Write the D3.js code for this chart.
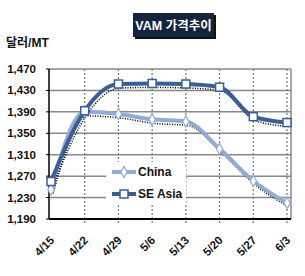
<!DOCTYPE html>
<html>
<head>
<meta charset="utf-8">
<script src="https://cdn.jsdelivr.net/npm/d3@7"></script>
<style>
  body { margin: 0; background: #fff; }
  text { font-family: Arial, "Liberation Sans", "Noto Sans CJK KR", sans-serif; }
</style>
</head>
<body>
<script>
// chart data
let dates = ['4/15', '4/22', '4/29', '5/6', '5/13', '5/20', '5/27', '6/3'];
let china = [1245, 1390, 1386, 1376, 1372, 1321, 1261, 1220];
let seAsia = [1260, 1392, 1442, 1443, 1442, 1436, 1381, 1370];
let yTicks = [1190, 1230, 1270, 1310, 1350, 1390, 1430, 1470];

let width = 305, height = 276;
let margin = { top: 69, right: 14, bottom: 57, left: 49 };

let svg = d3.select('body').append('svg')
    .attr('width', width)
    .attr('height', height);

let xScale = d3.scalePoint().domain(dates).range([51, 287]);
let yScale = d3.scaleLinear().domain([1190, 1470]).range([height - margin.bottom, margin.top]);

// grid
let grid = svg.append('g');
grid.selectAll('.hline')
    .data(yTicks.slice(1))
    .enter().append('line')
    .attr('x1', margin.left).attr('x2', width - margin.right)
    .attr('y1', d => yScale(d)).attr('y2', d => yScale(d))
    .attr('stroke', '#888').attr('stroke-width', 1.5);
grid.selectAll('.vline')
    .data(dates.slice(1))
    .enter().append('line')
    .attr('x1', d => xScale(d)).attr('x2', d => xScale(d))
    .attr('y1', margin.top).attr('y2', yScale(1190) + 4)
    .attr('stroke', '#777').attr('stroke-width', 1.2)
    .attr('stroke-dasharray', '2,2');
svg.append('line')
    .attr('x1', width - margin.right).attr('x2', width - margin.right)
    .attr('y1', margin.top).attr('y2', yScale(1190))
    .attr('stroke', '#888').attr('stroke-width', 1.5);

// axes
svg.append('line')
    .attr('x1', margin.left).attr('x2', margin.left)
    .attr('y1', margin.top).attr('y2', yScale(1190))
    .attr('stroke', '#000').attr('stroke-width', 1.5);
svg.append('line')
    .attr('x1', margin.left).attr('x2', width - margin.right)
    .attr('y1', yScale(1190)).attr('y2', yScale(1190))
    .attr('stroke', '#000').attr('stroke-width', 2);
svg.selectAll('.ytick')
    .data(yTicks)
    .enter().append('line')
    .attr('x1', margin.left - 3).attr('x2', margin.left)
    .attr('y1', d => yScale(d)).attr('y2', d => yScale(d))
    .attr('stroke', '#000');

svg.selectAll('.ylab')
    .data(yTicks)
    .enter().append('text')
    .attr('x', 36)
    .attr('y', d => yScale(d) + 4)
    .attr('text-anchor', 'end')
    .attr('font-size', 11.5)
    .attr('font-weight', 'bold')
    .attr('fill', '#111')
    .text(d => d3.format(',')(d));

svg.selectAll('.xlab')
    .data(dates)
    .enter().append('text')
    .attr('transform', d => `translate(${xScale(d) + 4}, ${yScale(1190) + 22}) rotate(-45)`)
    .attr('text-anchor', 'end')
    .attr('font-size', 11.5)
    .attr('font-weight', 'bold')
    .attr('fill', '#111')
    .text(d => d);

// title
svg.append('rect').attr('x', 135).attr('y', 15).attr('width', 81).attr('height', 24).attr('fill', '#111');
svg.append('rect').attr('x', 133).attr('y', 13).attr('width', 81).attr('height', 24).attr('fill', '#14243f');
svg.append('text')
    .attr('x', 173.5).attr('y', 30)
    .attr('text-anchor', 'middle')
    .attr('font-size', 12.5)
    .attr('font-weight', 'bold')
    .attr('fill', '#fff')
    .text('VAM 가격추이');

svg.append('text')
    .attr('x', 6).attr('y', 47)
    .attr('font-size', 12)
    .attr('font-weight', 'bold')
    .attr('fill', '#111')
    .text('달러/MT');

// lines
let line = d3.line()
    .x((d, i) => xScale(dates[i]))
    .y(d => yScale(d))
    .curve(d3.curveMonotoneX);

let series = [
    { name: 'China', values: china, color: '#8fabd6', marker: 'diamond' },
    { name: 'SE Asia', values: seAsia, color: '#3b5f92', marker: 'square' }
];

series.forEach(s => {
    // shadow
    svg.append('path')
        .attr('d', line(s.values))
        .attr('fill', 'none')
        .attr('stroke', '#000')
        .attr('stroke-width', 1.5)
        .attr('stroke-dasharray', '1,1.5')
        .attr('transform', 'translate(2,4)');
    svg.append('path')
        .attr('d', line(s.values))
        .attr('fill', 'none')
        .attr('stroke', s.color)
        .attr('stroke-width', 4);
});

series.forEach(s => {
    let g = svg.append('g');
    if (s.marker === 'square') {
        g.selectAll('rect')
            .data(s.values)
            .enter().append('rect')
            .attr('x', (d, i) => xScale(dates[i]) - 4)
            .attr('y', d => yScale(d) - 4)
            .attr('width', 8).attr('height', 8)
            .attr('fill', '#fff')
            .attr('stroke', s.color)
            .attr('stroke-width', 1.5);
    } else {
        g.selectAll('path')
            .data(s.values)
            .enter().append('path')
            .attr('d', d3.symbol(d3.symbolDiamond, 36))
            .attr('transform', (d, i) => `translate(${xScale(dates[i])}, ${yScale(d)})`)
            .attr('fill', '#fff')
            .attr('stroke', s.color)
            .attr('stroke-width', 1.2);
    }
});

// legend
let legend = svg.append('g').attr('transform', 'translate(106, 162)');
legend.append('rect').attr('x', 0).attr('y', 0).attr('width', 80).attr('height', 42).attr('fill', '#fff');
series.forEach((s, i) => {
    let y = 10 + i * 22;
    legend.append('line')
        .attr('x1', 6).attr('x2', 30)
        .attr('y1', y).attr('y2', y)
        .attr('stroke', s.color).attr('stroke-width', 4);
    if (s.marker === 'square') {
        legend.append('rect')
            .attr('x', 14).attr('y', y - 4).attr('width', 8).attr('height', 8)
            .attr('fill', '#fff').attr('stroke', s.color).attr('stroke-width', 1.5);
    } else {
        legend.append('path')
            .attr('d', d3.symbol(d3.symbolDiamond, 36))
            .attr('transform', `translate(18, ${y})`)
            .attr('fill', '#fff').attr('stroke', s.color).attr('stroke-width', 1.2);
    }
    legend.append('text')
        .attr('x', 32).attr('y', y + 4)
        .attr('font-size', 12)
        .attr('font-weight', 'bold')
        .attr('fill', '#111')
        .text(s.name);
});
</script>
</body>
</html>
